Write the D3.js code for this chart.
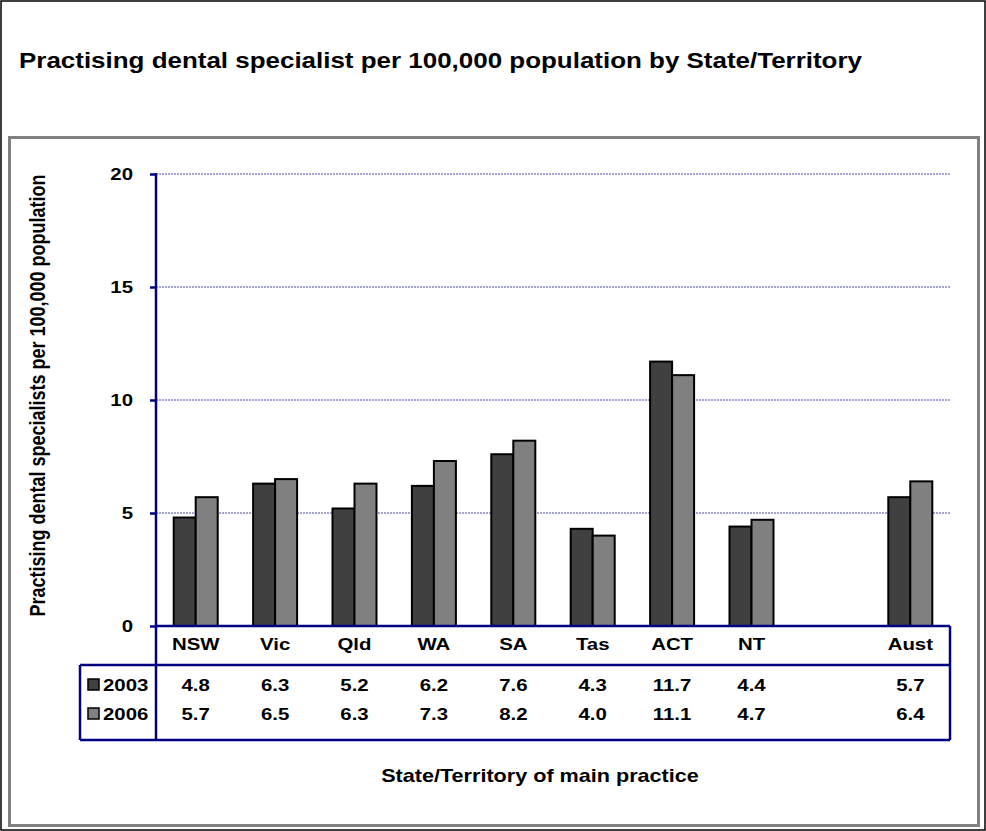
<!DOCTYPE html>
<html>
<head>
<meta charset="utf-8">
<script src="https://cdn.jsdelivr.net/npm/d3@7"></script>
<style>
  html, body { margin: 0; padding: 0; background: #fff; }
  svg text { font-family: "Liberation Sans", Arial, sans-serif; font-weight: bold; fill: #000; }
</style>
</head>
<body>
<svg id="chart" width="986" height="831"></svg>
<script>
// ---- data ----
const categories = ["NSW", "Vic", "Qld", "WA", "SA", "Tas", "ACT", "NT", "", "Aust"];
const seriesNames = ["2003", "2006"];
const values2003 = [4.8, 6.3, 5.2, 6.2, 7.6, 4.3, 11.7, 4.4, null, 5.7];
const values2006 = [5.7, 6.5, 6.3, 7.3, 8.2, 4.0, 11.1, 4.7, null, 6.4];
const yTicks = [0, 5, 10, 15, 20];
const titleText = "Practising dental specialist per 100,000 population by State/Territory";
const yTitleText = "Practising dental specialists per 100,000 population";
const xTitleText = "State/Territory of main practice";

const colors = ["#404040", "#808080"];
const navy = "#000080";
const SX = 1.2; // horizontal stretch of text glyphs

const svg = d3.select("#chart");

function stretchedText(g, x, y, txt, size, anchor, sx) {
  return g.append("text")
    .attr("transform", `translate(${x},${y}) scale(${sx || SX},1)`)
    .attr("text-anchor", anchor || "start")
    .style("font-size", size + "px")
    .text(txt);
}

// outer border
svg.append("rect").attr("x", 1).attr("y", 1).attr("width", 984).attr("height", 829)
  .attr("fill", "none").attr("stroke", "#000").attr("stroke-width", 1.5);

// title
stretchedText(svg, 19, 68, titleText, 22, "start", 1.18);

// inner box
svg.append("rect").attr("x", 9.5).attr("y", 137.5).attr("width", 969).attr("height", 688)
  .attr("fill", "none").attr("stroke", "#808080").attr("stroke-width", 3);

// scales
const plotLeft = 156, plotRight = 950, plotTop = 174, plotBottom = 626;
const x0 = d3.scaleBand().domain(d3.range(categories.length)).range([plotLeft, plotRight]).padding(0);
const y = d3.scaleLinear().domain([0, 20]).range([plotBottom, plotTop]);
const barW = 22;
const x1 = d3.scaleBand().domain(seriesNames).range([0, 2 * barW]).padding(0);

// gridlines
svg.append("g").selectAll("line").data(yTicks.filter(d => d > 0)).join("line")
  .attr("x1", plotLeft).attr("x2", plotRight)
  .attr("y1", d => y(d)).attr("y2", d => y(d))
  .attr("stroke", navy).attr("stroke-width", 1).attr("stroke-dasharray", "2,1").attr("opacity", 0.7);

// bars
const series = [values2003, values2006];
const gBars = svg.append("g");
series.forEach((vals, si) => {
  gBars.selectAll(null).data(vals.map((v, i) => ({ v, i }))).join("rect")
    .filter(d => d.v != null)
    .attr("x", d => x0(d.i) + x0.bandwidth() / 2 - barW + x1(seriesNames[si]))
    .attr("y", d => y(d.v))
    .attr("width", barW)
    .attr("height", d => y(0) - y(d.v))
    .attr("fill", colors[si])
    .attr("stroke", "#000").attr("stroke-width", 2);
});

// y axis
const yAxis = d3.axisLeft(y).tickValues(yTicks).tickSize(6).tickFormat("");
const gy = svg.append("g").attr("transform", `translate(${plotLeft},0)`).call(yAxis);
gy.select(".domain").remove();
gy.selectAll(".tick line").attr("stroke", navy).attr("stroke-width", 2.5);
yTicks.forEach(t => stretchedText(svg, 133, y(t) + 6, String(t), 17, "end"));

// axis lines & table grid
const lines = [
  [plotLeft, plotTop - 1, plotLeft, 740],
  [plotLeft, plotBottom, plotRight, plotBottom],
  [80, 665, plotRight, 665],
  [80, 740, plotRight, 740],
  [80, 665, 80, 740],
  [plotRight, plotBottom, plotRight, 740]
];
svg.append("g").selectAll("line").data(lines).join("line")
  .attr("x1", d => d[0]).attr("y1", d => d[1]).attr("x2", d => d[2]).attr("y2", d => d[3])
  .attr("stroke", navy).attr("stroke-width", 2.5);

// category labels
categories.forEach((c, i) => {
  if (c) stretchedText(svg, x0(i) + x0.bandwidth() / 2, 650, c, 17, "middle");
});

// data table
const rowY = [691, 720];
series.forEach((vals, si) => {
  svg.append("rect").attr("x", 88).attr("y", rowY[si] - 12).attr("width", 11).attr("height", 11)
    .attr("fill", colors[si]).attr("stroke", "#000").attr("stroke-width", 1.5);
  stretchedText(svg, 103, rowY[si], seriesNames[si], 17, "start");
  vals.forEach((v, i) => {
    if (v != null) stretchedText(svg, x0(i) + x0.bandwidth() / 2, rowY[si], v.toFixed(1), 17, "middle");
  });
});

// axis titles
svg.append("text")
  .attr("transform", `translate(45,${(plotTop + 617) / 2}) rotate(-90) scale(1,${SX})`)
  .attr("text-anchor", "middle")
  .style("font-size", "18px")
  .text(yTitleText);

stretchedText(svg, 540, 782, xTitleText, 18, "middle");
</script>
</body>
</html>
